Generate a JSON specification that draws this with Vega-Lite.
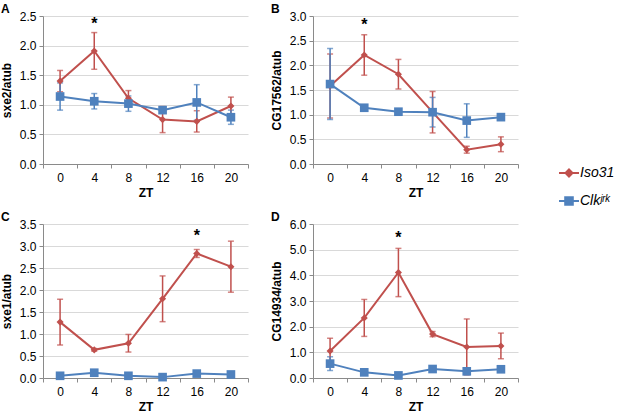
{
  "$schema": "https://vega.github.io/schema/vega-lite/v6.json",
  "background": "white",
  "padding": {"left": 0, "top": 3, "right": 0, "bottom": 0},
  "datasets": {
    "expr": [
      {"panel": "A", "zt": 0, "series": "Iso31", "mean": 1.40, "err": 0.18},
      {"panel": "A", "zt": 4, "series": "Iso31", "mean": 1.91, "err": 0.31},
      {"panel": "A", "zt": 8, "series": "Iso31", "mean": 1.11, "err": 0.13},
      {"panel": "A", "zt": 12, "series": "Iso31", "mean": 0.75, "err": 0.22},
      {"panel": "A", "zt": 16, "series": "Iso31", "mean": 0.72, "err": 0.18},
      {"panel": "A", "zt": 20, "series": "Iso31", "mean": 0.98, "err": 0.15},
      {"panel": "A", "zt": 0, "series": "Clk", "mean": 1.14, "err": 0.23},
      {"panel": "A", "zt": 4, "series": "Clk", "mean": 1.06, "err": 0.13},
      {"panel": "A", "zt": 8, "series": "Clk", "mean": 1.02, "err": 0.13},
      {"panel": "A", "zt": 12, "series": "Clk", "mean": 0.91, "err": 0.05},
      {"panel": "A", "zt": 16, "series": "Clk", "mean": 1.04, "err": 0.30},
      {"panel": "A", "zt": 20, "series": "Clk", "mean": 0.79, "err": 0.12},
      {"panel": "B", "zt": 0, "series": "Iso31", "mean": 1.58, "err": 0.65},
      {"panel": "B", "zt": 4, "series": "Iso31", "mean": 2.21, "err": 0.41},
      {"panel": "B", "zt": 8, "series": "Iso31", "mean": 1.82, "err": 0.30},
      {"panel": "B", "zt": 12, "series": "Iso31", "mean": 1.05, "err": 0.42},
      {"panel": "B", "zt": 16, "series": "Iso31", "mean": 0.29, "err": 0.07},
      {"panel": "B", "zt": 20, "series": "Iso31", "mean": 0.40, "err": 0.15},
      {"panel": "B", "zt": 0, "series": "Clk", "mean": 1.62, "err": 0.72},
      {"panel": "B", "zt": 4, "series": "Clk", "mean": 1.14, "err": 0.05},
      {"panel": "B", "zt": 8, "series": "Clk", "mean": 1.06, "err": 0.03},
      {"panel": "B", "zt": 12, "series": "Clk", "mean": 1.05, "err": 0.30},
      {"panel": "B", "zt": 16, "series": "Clk", "mean": 0.88, "err": 0.34},
      {"panel": "B", "zt": 20, "series": "Clk", "mean": 0.95, "err": 0.05},
      {"panel": "C", "zt": 0, "series": "Iso31", "mean": 1.27, "err": 0.52},
      {"panel": "C", "zt": 4, "series": "Iso31", "mean": 0.64, "err": 0.03},
      {"panel": "C", "zt": 8, "series": "Iso31", "mean": 0.79, "err": 0.20},
      {"panel": "C", "zt": 12, "series": "Iso31", "mean": 1.80, "err": 0.52},
      {"panel": "C", "zt": 16, "series": "Iso31", "mean": 2.83, "err": 0.09},
      {"panel": "C", "zt": 20, "series": "Iso31", "mean": 2.53, "err": 0.58},
      {"panel": "C", "zt": 0, "series": "Clk", "mean": 0.05, "err": 0.02},
      {"panel": "C", "zt": 4, "series": "Clk", "mean": 0.12, "err": 0.03},
      {"panel": "C", "zt": 8, "series": "Clk", "mean": 0.05, "err": 0.02},
      {"panel": "C", "zt": 12, "series": "Clk", "mean": 0.02, "err": 0.01},
      {"panel": "C", "zt": 16, "series": "Clk", "mean": 0.10, "err": 0.03},
      {"panel": "C", "zt": 20, "series": "Clk", "mean": 0.08, "err": 0.02},
      {"panel": "D", "zt": 0, "series": "Iso31", "mean": 1.05, "err": 0.50},
      {"panel": "D", "zt": 4, "series": "Iso31", "mean": 2.34, "err": 0.72},
      {"panel": "D", "zt": 8, "series": "Iso31", "mean": 4.11, "err": 0.94},
      {"panel": "D", "zt": 12, "series": "Iso31", "mean": 1.71, "err": 0.10},
      {"panel": "D", "zt": 16, "series": "Iso31", "mean": 1.21, "err": 1.09},
      {"panel": "D", "zt": 20, "series": "Iso31", "mean": 1.25, "err": 0.50},
      {"panel": "D", "zt": 0, "series": "Clk", "mean": 0.56, "err": 0.27},
      {"panel": "D", "zt": 4, "series": "Clk", "mean": 0.22, "err": 0.05},
      {"panel": "D", "zt": 8, "series": "Clk", "mean": 0.10, "err": 0.03},
      {"panel": "D", "zt": 12, "series": "Clk", "mean": 0.35, "err": 0.05},
      {"panel": "D", "zt": 16, "series": "Clk", "mean": 0.26, "err": 0.06},
      {"panel": "D", "zt": 20, "series": "Clk", "mean": 0.34, "err": 0.05}
    ],
    "stars": [
      {"panel": "A", "zt": 4, "mean": 2.36},
      {"panel": "B", "zt": 4, "mean": 2.82},
      {"panel": "C", "zt": 16, "mean": 3.22},
      {"panel": "D", "zt": 8, "mean": 5.45}
    ]
  },
  "columns": 2,
  "spacing": {"row": 13, "column": 21},
  "concat": [
    {
      "title": "A",
      "width": 205,
      "height": 148,
      "data": {"name": "expr"},
      "transform": [{"filter": "datum.panel == 'A'"}],
      "encoding": {
        "x": {"field": "zt", "type": "ordinal", "bandPosition": 0.5, "title": "ZT",
              "scale": {"type": "band", "paddingInner": 0, "paddingOuter": 0}},
        "y": {"field": "mean", "type": "quantitative", "title": "sxe2/atub",
              "scale": {"domain": [0, 2.5], "nice": false}, "axis": {"values": [0, 0.5, 1, 1.5, 2, 2.5]}}
      },
      "layer": [
        {"mark": {"type": "errorbar", "ticks": {"size": 6}, "thickness": 1.5},
         "encoding": {
           "yError": {"field": "err"},
           "color": {"field": "series", "type": "nominal",
                     "scale": {"domain": ["Iso31", "Clk"], "range": ["#C0504D", "#4F81BD"]},
                     "legend": {
                       "title": null, "orient": "none", "legendX": 515, "legendY": 146,
                       "labelFontSize": 14, "labelFontStyle": "italic", "labelColor": "#000",
                       "symbolSize": 400, "symbolStrokeWidth": 2, "rowPadding": 9, "labelOffset": 0,
                       "labelExpr": "datum.value == 'Clk' ? 'Clkʲʳᵏ' : datum.value",
                       "encode": {"symbols": {"update": {
                         "shape": {"signal": "datum.value == 'Iso31' ? 'M-1,0H1M0,-0.35L0.35,0L0,0.35L-0.35,0Z' : 'M-1,0H1M-0.38,-0.38H0.38V0.38H-0.38Z'"},
                         "fill": {"scale": "color", "field": "value"},
                         "stroke": {"scale": "color", "field": "value"},
                         "opacity": {"value": 1}
                       }}}
                     }}}},
        {"mark": {"type": "line", "strokeWidth": 2},
         "encoding": {"color": {"field": "series", "type": "nominal"}}},
        {"mark": {"type": "point", "filled": true, "opacity": 1},
         "encoding": {"color": {"field": "series", "type": "nominal"},
                      "shape": {"condition": {"test": "datum.series == 'Iso31'", "value": "diamond"}, "value": "square"},
                      "size": {"condition": {"test": "datum.series == 'Iso31'", "value": 50}, "value": 75}}},
        {"data": {"name": "stars"}, "transform": [{"filter": "datum.panel == 'A'"}],
         "mark": {"type": "text", "text": "*", "fontSize": 16, "fontWeight": "bold", "baseline": "middle"}}
      ]
    },
    {
      "title": "B",
      "width": 205,
      "height": 148,
      "data": {"name": "expr"},
      "transform": [{"filter": "datum.panel == 'B'"}],
      "encoding": {
        "x": {"field": "zt", "type": "ordinal", "bandPosition": 0.5, "title": "ZT",
              "scale": {"type": "band", "paddingInner": 0, "paddingOuter": 0}},
        "y": {"field": "mean", "type": "quantitative", "title": "CG17562/atub",
              "scale": {"domain": [0, 3], "nice": false}, "axis": {"values": [0, 0.5, 1, 1.5, 2, 2.5, 3]}}
      },
      "layer": [
        {"mark": {"type": "errorbar", "ticks": {"size": 6}, "thickness": 1.5},
         "encoding": {"yError": {"field": "err"},
                      "color": {"field": "series", "type": "nominal"}}},
        {"mark": {"type": "line", "strokeWidth": 2},
         "encoding": {"color": {"field": "series", "type": "nominal"}}},
        {"mark": {"type": "point", "filled": true, "opacity": 1},
         "encoding": {"color": {"field": "series", "type": "nominal"},
                      "shape": {"condition": {"test": "datum.series == 'Iso31'", "value": "diamond"}, "value": "square"},
                      "size": {"condition": {"test": "datum.series == 'Iso31'", "value": 50}, "value": 75}}},
        {"data": {"name": "stars"}, "transform": [{"filter": "datum.panel == 'B'"}],
         "mark": {"type": "text", "text": "*", "fontSize": 16, "fontWeight": "bold", "baseline": "middle"}}
      ]
    },
    {
      "title": "C",
      "width": 205,
      "height": 154,
      "data": {"name": "expr"},
      "transform": [{"filter": "datum.panel == 'C'"}],
      "encoding": {
        "x": {"field": "zt", "type": "ordinal", "bandPosition": 0.5, "title": "ZT",
              "scale": {"type": "band", "paddingInner": 0, "paddingOuter": 0}},
        "y": {"field": "mean", "type": "quantitative", "title": "sxe1/atub",
              "scale": {"domain": [0, 3.5], "nice": false}, "axis": {"values": [0, 0.5, 1, 1.5, 2, 2.5, 3, 3.5]}}
      },
      "layer": [
        {"mark": {"type": "errorbar", "ticks": {"size": 6}, "thickness": 1.5},
         "encoding": {"yError": {"field": "err"},
                      "color": {"field": "series", "type": "nominal"}}},
        {"mark": {"type": "line", "strokeWidth": 2},
         "encoding": {"color": {"field": "series", "type": "nominal"}}},
        {"mark": {"type": "point", "filled": true, "opacity": 1},
         "encoding": {"color": {"field": "series", "type": "nominal"},
                      "shape": {"condition": {"test": "datum.series == 'Iso31'", "value": "diamond"}, "value": "square"},
                      "size": {"condition": {"test": "datum.series == 'Iso31'", "value": 50}, "value": 75}}},
        {"data": {"name": "stars"}, "transform": [{"filter": "datum.panel == 'C'"}],
         "mark": {"type": "text", "text": "*", "fontSize": 16, "fontWeight": "bold", "baseline": "middle"}}
      ]
    },
    {
      "title": "D",
      "width": 205,
      "height": 154,
      "data": {"name": "expr"},
      "transform": [{"filter": "datum.panel == 'D'"}],
      "encoding": {
        "x": {"field": "zt", "type": "ordinal", "bandPosition": 0.5, "title": "ZT",
              "scale": {"type": "band", "paddingInner": 0, "paddingOuter": 0}},
        "y": {"field": "mean", "type": "quantitative", "title": "CG14934/atub",
              "scale": {"domain": [0, 6], "nice": false}, "axis": {"values": [0, 1, 2, 3, 4, 5, 6]}}
      },
      "layer": [
        {"mark": {"type": "errorbar", "ticks": {"size": 6}, "thickness": 1.5},
         "encoding": {"yError": {"field": "err"},
                      "color": {"field": "series", "type": "nominal"}}},
        {"mark": {"type": "line", "strokeWidth": 2},
         "encoding": {"color": {"field": "series", "type": "nominal"}}},
        {"mark": {"type": "point", "filled": true, "opacity": 1},
         "encoding": {"color": {"field": "series", "type": "nominal"},
                      "shape": {"condition": {"test": "datum.series == 'Iso31'", "value": "diamond"}, "value": "square"},
                      "size": {"condition": {"test": "datum.series == 'Iso31'", "value": 50}, "value": 75}}},
        {"data": {"name": "stars"}, "transform": [{"filter": "datum.panel == 'D'"}],
         "mark": {"type": "text", "text": "*", "fontSize": 16, "fontWeight": "bold", "baseline": "middle"}}
      ]
    }
  ],
  "resolve": {"scale": {"y": "independent"}},
  "config": {
    "font": "Liberation Sans",
    "view": {"stroke": null},
    "title": {"anchor": "start", "frame": "group", "dx": -42, "fontSize": 12, "fontWeight": "bold", "offset": -6, "color": "#000"},
    "axis": {"labelFontSize": 12, "labelColor": "#000", "titleFontSize": 12, "titleFontWeight": "bold", "titleColor": "#000",
             "domainColor": "#8a8a8a", "tickColor": "#8a8a8a", "tickSize": 4, "gridColor": "#d9d9d9", "labelOverlap": false},
    "axisY": {"format": ".1f", "grid": true, "labelPadding": 3, "titlePadding": 6},
    "axisX": {"grid": false, "labelAngle": 0, "tickBand": "extent", "labelPadding": 4, "titlePadding": 4}
  }
}
